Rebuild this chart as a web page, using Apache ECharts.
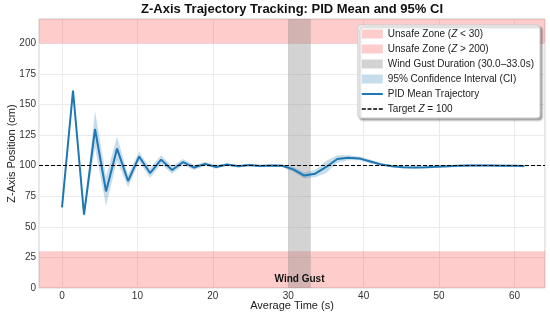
<!DOCTYPE html>
<html>
<head>
<meta charset="utf-8">
<script src="https://cdn.jsdelivr.net/npm/echarts@6/dist/echarts.min.js"></script>
<style>html,body{margin:0;padding:0;background:#fff}#c{width:550px;height:320px}</style>
</head>
<body>
<div id="c"></div>
<script>
// ---- data ----
var times = [0, 1.46, 2.92, 4.38, 5.84, 7.3, 8.76, 10.22, 11.68, 13.14, 14.6, 16.06, 17.52, 18.98, 20.44, 21.9, 23.36, 24.82, 26.28, 27.74, 29.2, 30.66, 32.12, 33.58, 35.04, 36.5, 37.96, 39.42, 40.88, 42.34, 43.8, 45.26, 46.72, 48.18, 49.64, 51.1, 52.56, 54.02, 55.48, 56.94, 58.4, 59.86, 61.32];
var meanZ = [66, 161.5, 60, 130, 79, 114, 87.5, 107.5, 94, 105, 96.5, 103, 98.5, 101.5, 99, 101, 99.5, 100.5, 99.8, 100.2, 100, 97, 92, 93.5, 99, 105.5, 106.5, 106, 103.5, 101, 99.5, 98.7, 98.5, 98.7, 99.2, 99.6, 99.9, 100.1, 100.2, 100.1, 100, 99.9, 99.8];
var ciHalf = [1, 1.5, 2, 15, 12, 10, 5, 4, 4, 3.5, 3, 2.5, 2, 1.5, 1.5, 1, 1, 1, 1, 1, 1, 2, 2.5, 3, 5, 3, 2, 1.5, 1.5, 1, 1, 1, 1, 1, 1, 1, 1, 1, 1, 1, 1, 1, 1];
var unsafeLow = [0, 30];
var unsafeHigh = [200, 220];
var gust = [30.0, 33.0];
var targetZ = 100;
var xRange = [-3.05, 64.05];
var yRange = [0, 220];
var yTickStep = 25;

var names = {
  low: 'Unsafe Zone (Z < 30)',
  high: 'Unsafe Zone (Z > 200)',
  gust: 'Wind Gust Duration (30.0–33.0s)',
  ci: '95% Confidence Interval (CI)',
  mean: 'PID Mean Trajectory',
  target: 'Target Z = 100'
};
var richNames = {};
richNames[names.low] = 'Unsafe Zone ({it|Z} < 30)';
richNames[names.high] = 'Unsafe Zone ({it|Z} > 200)';
richNames[names.gust] = names.gust;
richNames[names.ci] = names.ci;
richNames[names.mean] = names.mean;
richNames[names.target] = 'Target {it|Z} = 100';

var FONT = 'Liberation Sans';
var PINK = 'rgba(255,0,0,0.2)';
var GRAY = 'rgba(128,128,128,0.35)';
var BLUE = '#1f77b4';
var CIFILL = 'rgba(31,119,180,0.25)';
var ICON_LINE = 'path://M0,0h21v2h-21z';
var ICON_DASH = 'path://M0,0h4v1.5h-4z M5.67,0h4v1.5h-4z M11.33,0h4v1.5h-4z M17,0h4v1.5h-4z';

var ciData = times.map(function (t, i) { return [t, meanZ[i] - ciHalf[i], meanZ[i] + ciHalf[i]]; });
var meanData = times.map(function (t, i) { return [t, meanZ[i]]; });

var chart = echarts.init(document.getElementById('c'), null, {renderer: 'canvas'});
chart.setOption({
  animation: false,
  textStyle: {fontFamily: FONT},
  title: {
    text: 'Z-Axis Trajectory Tracking: PID Mean and 95% CI',
    left: 292, textAlign: 'center', top: 3, padding: 0,
    textStyle: {fontFamily: FONT, fontWeight: 'bold', fontSize: 13, color: '#111'}
  },
  grid: {left: 39, right: 5, top: 19, bottom: 32, containLabel: false, outerBoundsMode: 'none',
    show: true, borderColor: '#cccccc', borderWidth: 1, backgroundColor: 'transparent'},
  xAxis: {
    type: 'value', min: xRange[0], max: xRange[1],
    name: 'Average Time (s)', nameLocation: 'middle', nameGap: 12, nameMoveOverlap: false,
    nameTextStyle: {fontFamily: FONT, fontSize: 11, color: '#222'},
    axisLine: {show: false}, axisTick: {show: false},
    axisLabel: {showMinLabel: false, showMaxLabel: false, margin: 3, fontSize: 10, color: '#333', fontFamily: FONT},
    splitLine: {show: true, lineStyle: {color: '#ebebeb', width: 1}}
  },
  yAxis: {
    type: 'value', min: yRange[0], max: yRange[1], interval: yTickStep,
    name: 'Z-Axis Position (cm)', nameLocation: 'middle', nameGap: 22, nameMoveOverlap: false,
    nameTextStyle: {fontFamily: FONT, fontSize: 11, color: '#222'},
    axisLine: {show: false}, axisTick: {show: false},
    axisLabel: {showMaxLabel: false, margin: 3, fontSize: 10, color: '#333', fontFamily: FONT},
    splitLine: {show: true, lineStyle: {color: '#ebebeb', width: 1}}
  },
  legend: {
    orient: 'vertical', right: 10, top: 25,
    padding: [3, 6, 3, 4], itemGap: 3, itemWidth: 21, itemHeight: 9, itemTextGap: 8,
    backgroundColor: '#ffffff', borderColor: '#cccccc', borderWidth: 1, borderRadius: 3,
    shadowColor: 'rgba(0,0,0,0.35)', shadowOffsetX: 2, shadowOffsetY: 2, shadowBlur: 2,
    textStyle: {fontFamily: FONT, fontSize: 10, color: '#222', lineHeight: 12,
      rich: {it: {fontStyle: 'italic', fontFamily: FONT, fontSize: 10, color: '#222'}}},
    formatter: function (n) { return richNames[n] || n; },
    data: [
      {name: names.low, icon: 'rect', itemStyle: {color: PINK}},
      {name: names.high, icon: 'rect', itemStyle: {color: PINK}},
      {name: names.gust, icon: 'rect', itemStyle: {color: GRAY}},
      {name: names.ci, icon: 'rect', itemStyle: {color: CIFILL}},
      {name: names.mean, icon: ICON_LINE, itemStyle: {color: BLUE, borderWidth: 0}},
      {name: names.target, icon: ICON_DASH, itemStyle: {color: '#000', borderWidth: 0}}
    ]
  },
  series: [
    {
      name: names.low, type: 'line', data: [], z: 1, itemStyle: {color: PINK},
      markArea: {silent: true, itemStyle: {color: PINK}, data: [[{yAxis: unsafeLow[0]}, {yAxis: unsafeLow[1]}]]}
    },
    {
      name: names.high, type: 'line', data: [], z: 1, itemStyle: {color: PINK},
      markArea: {silent: true, itemStyle: {color: PINK}, data: [[{yAxis: unsafeHigh[0]}, {yAxis: unsafeHigh[1]}]]}
    },
    {
      name: names.gust, type: 'line', data: [], z: 2, itemStyle: {color: GRAY},
      markArea: {silent: true, itemStyle: {color: GRAY},
        label: {show: true, position: 'insideBottom', distance: 4, formatter: 'Wind Gust',
          fontFamily: FONT, fontWeight: 'bold', fontSize: 10, color: '#111'},
        data: [[{xAxis: gust[0]}, {xAxis: gust[1]}]]}
    },
    {
      name: names.ci, type: 'custom', data: ciData, z: 3, silent: true,
      itemStyle: {color: CIFILL},
      encode: {x: 0, y: [1, 2]},
      renderItem: function (params, api) {
        if (params.dataIndex !== 0) return null;
        var pts = [];
        for (var i = 0; i < ciData.length; i++) pts.push(api.coord([ciData[i][0], ciData[i][2]]));
        for (var j = ciData.length - 1; j >= 0; j--) pts.push(api.coord([ciData[j][0], ciData[j][1]]));
        return {type: 'polygon', shape: {points: pts}, style: {fill: CIFILL, stroke: null}};
      }
    },
    {
      name: names.mean, type: 'line', data: meanData, symbol: 'none', z: 4,
      itemStyle: {color: BLUE}, lineStyle: {color: BLUE, width: 2}
    },
    {
      name: names.target, type: 'line', data: [], z: 5, symbol: 'none',
      itemStyle: {color: '#000'}, lineStyle: {color: '#000', width: 1.2, type: [4, 2]},
      markLine: {silent: true, symbol: 'none', label: {show: false},
        lineStyle: {color: '#000', width: 1.2, type: [4, 2]},
        data: [{yAxis: targetZ}]}
    }
  ]
});
</script>
</body>
</html>
